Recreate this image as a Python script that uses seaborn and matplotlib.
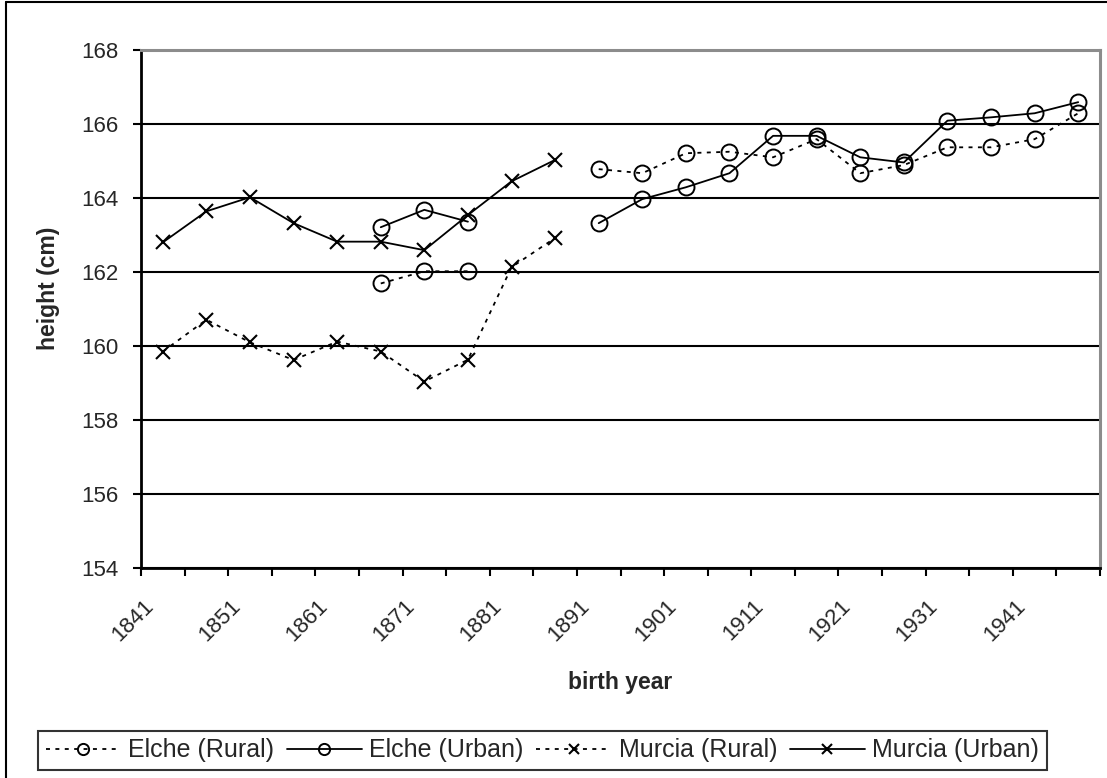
import numpy as np
import matplotlib
matplotlib.use("Agg")
import matplotlib.pyplot as plt
from matplotlib.lines import Line2D
from matplotlib.transforms import ScaledTranslation
import seaborn as sns

# Five-year birth cohorts (first year of each group)
cohorts = [1841, 1846, 1851, 1856, 1861, 1866, 1871, 1876, 1881, 1886, 1891,
           1896, 1901, 1906, 1911, 1916, 1921, 1926, 1931, 1936, 1941, 1946]

nan = np.nan
elche_rural = [nan, nan, nan, nan, nan, 161.69, 162.02, 162.02, nan, nan, 164.78,
               164.67, 165.21, 165.25, 165.10, 165.59, 164.67, 164.89, 165.37, 165.37,
               165.59, 166.29]
elche_urban = [nan, nan, nan, nan, nan, 163.21, 163.68, 163.36, nan, nan, 163.32,
               163.97, 164.29, 164.67, 165.68, 165.68, 165.10, 164.96, 166.09, 166.18,
               166.29, 166.59]
murcia_rural = [159.85, 160.71, 160.10, 159.62, 160.12, 159.85, 159.04, 159.63, 162.13,
                162.92, nan, nan, nan, nan, nan, nan, nan, nan, nan, nan, nan, nan]
murcia_urban = [162.80, 163.64, 164.02, 163.32, 162.82, 162.82, 162.59, 163.54, 164.45,
                165.03, nan, nan, nan, nan, nan, nan, nan, nan, nan, nan, nan, nan]

series = [
    ("Elche (Rural)", elche_rural, "o", (0, (2.2, 3.0))),
    ("Elche (Urban)", elche_urban, "o", "-"),
    ("Murcia (Rural)", murcia_rural, "x", (0, (2.2, 3.0))),
    ("Murcia (Urban)", murcia_urban, "x", "-"),
]

sns.set_style("white")
plt.rcParams["font.family"] = ["Liberation Sans", "DejaVu Sans"]

W, H = 1107, 778
fig = plt.figure(figsize=(W / 100, H / 100), dpi=100)
ax = fig.add_axes([141 / W, 1 - 568 / H, (1100 - 141) / W, (568 - 50) / H])

pos = np.arange(len(cohorts)) + 0.5


def runs(values):
    """Split a series into contiguous stretches without missing values."""
    v = np.asarray(values, dtype=float)
    ok = ~np.isnan(v)
    start = None
    for i, flag in enumerate(ok):
        if flag and start is None:
            start = i
        if (not flag or i == len(ok) - 1) and start is not None:
            end = i + 1 if flag else i
            yield slice(start, end)
            start = None


for label, vals, marker, ls in series:
    v = np.asarray(vals, dtype=float)
    first = True
    for sl in runs(v):
        is_circle = marker == "o"
        sns.lineplot(
            x=pos[sl], y=v[sl], ax=ax, sort=False,
            color="black", linewidth=1.3, linestyle=ls,
            marker=marker,
            markersize=11.5 if is_circle else 10.5,
            markerfacecolor="none",
            markeredgecolor="black",
            markeredgewidth=1.4 if is_circle else 1.5,
            label=label if first else None,
            zorder=3,
        )
        first = False

# Axes limits, ticks and grid
ax.set_xlim(0, len(cohorts))
ax.set_ylim(154, 168)
ax.set_yticks(np.arange(154, 169, 2))
ax.yaxis.grid(True, color="black", linewidth=1.5)
ax.xaxis.grid(False)
ax.set_axisbelow(True)

ax.set_xticks(pos[::2])
ax.set_xticklabels([str(c) for c in cohorts[::2]], rotation=45,
                   ha="right", va="top", rotation_mode="anchor")
ax.set_xticks(np.arange(0, len(cohorts) + 1), minor=True)
ax.tick_params(axis="x", which="major", length=0, pad=20, labelsize=16)
ax.tick_params(axis="x", which="minor", length=6, width=1.5, direction="out",
               color="black", bottom=True)
ax.tick_params(axis="y", which="major", length=6, width=1.5, direction="out",
               color="black", pad=10, labelsize=16, left=True)
shift = ScaledTranslation(-20 / 100, 0, fig.dpi_scale_trans)
for t in ax.get_xticklabels():
    t.set_transform(t.get_transform() + shift)

for side in ("left", "bottom"):
    ax.spines[side].set_color("black")
    ax.spines[side].set_linewidth(2)
for side in ("top", "right"):
    ax.spines[side].set_color("#8c8c8c")
    ax.spines[side].set_linewidth(2.2)

ax.set_xlabel("")
ax.set_ylabel("")
fig.text(48 / W, 1 - 288 / H, "height (cm)", rotation=90, ha="center", va="center",
         fontsize=16.5, fontweight="bold")
fig.text(620 / W, 1 - 683 / H, "birth year", ha="center", va="center",
         fontsize=16.5, fontweight="bold")

# Legend along the bottom of the figure
handles, labels = ax.get_legend_handles_labels()
if ax.get_legend() is not None:
    ax.get_legend().remove()
leg = fig.legend(handles, labels, loc="center", ncol=4,
                 bbox_to_anchor=(542.5 / W, 1 - 750.5 / H),
                 fontsize=18.0, frameon=True, fancybox=False, edgecolor="black",
                 handlelength=3.0, handletextpad=0.3, columnspacing=0.5,
                 borderpad=0.3, markerscale=0.7, borderaxespad=0)
leg.get_frame().set_linewidth(1.5)

# Outer chart frame
fig.add_artist(Line2D([6 / W, 6 / W], [0, 1 - 2 / H], transform=fig.transFigure,
                      color="black", linewidth=1.5))
fig.add_artist(Line2D([6 / W, 1], [1 - 2 / H, 1 - 2 / H], transform=fig.transFigure,
                      color="black", linewidth=1.5))

fig.savefig("out.png", dpi=100)
